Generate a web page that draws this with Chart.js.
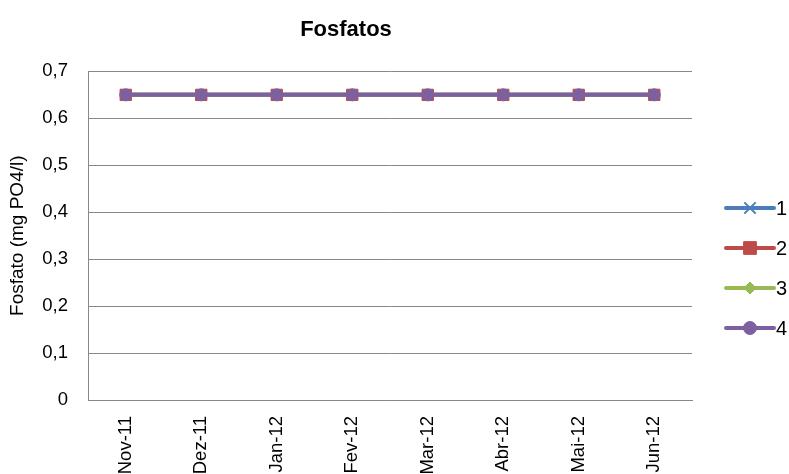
<!DOCTYPE html>
<html>
<head>
<meta charset="utf-8">
<title>Fosfatos</title>
<script src="https://cdn.jsdelivr.net/npm/chart.js@4.4.1/dist/chart.umd.min.js"></script>
<style>
  html, body { margin: 0; padding: 0; background: #ffffff; overflow: hidden; }
  #wrap { width: 789px; height: 474px; overflow: hidden; }
</style>
</head>
<body>
<div id="wrap"><canvas id="chart" width="789" height="474"></canvas></div>
<script>
// Sampling months
const months = ['Nov-11', 'Dez-11', 'Jan-12', 'Fev-12', 'Mar-12', 'Abr-12', 'Mai-12', 'Jun-12'];

// Phosphate (mg PO4/l) per sampling point
const point1 = [0.65, 0.65, 0.65, 0.65, 0.65, 0.65, 0.65, 0.65];
const point2 = [0.65, 0.65, 0.65, 0.65, 0.65, 0.65, 0.65, 0.65];
const point3 = [0.65, 0.65, 0.65, 0.65, 0.65, 0.65, 0.65, 0.65];
const point4 = [0.65, 0.65, 0.65, 0.65, 0.65, 0.65, 0.65, 0.65];

const seriesNames = ['1', '2', '3', '4'];
const yTicks = [0, 0.1, 0.2, 0.3, 0.4, 0.5, 0.6, 0.7];

const FONT = "'Liberation Sans', Arial, sans-serif";
const GRID = '#888888';

const styles = [
  { color: '#4A7EBB', point: 'crossRot', radius: 5, legendRadius: 8 },
  { color: '#BE4B48', point: 'rect', radius: 8, legendRadius: 9 },
  { color: '#98B954', point: 'rectRot', radius: 6, legendRadius: 6 },
  { color: '#7D60A0', point: 'circle', radius: 6, legendRadius: 6.5 }
];

const seriesData = [point1, point2, point3, point4];

const datasets = seriesData.map((d, i) => ({
  label: seriesNames[i],
  data: d,
  borderColor: styles[i].color,
  backgroundColor: styles[i].color,
  borderWidth: 4,
  pointStyle: styles[i].point,
  pointRadius: styles[i].radius,
  pointBorderWidth: i === 0 ? 2 : 1,
  pointBorderColor: styles[i].color,
  pointBackgroundColor: styles[i].color,
  tension: 0,
  // later series sit on top
  order: seriesNames.length - i
}));

// Legend on the right: short line with the series marker, then the name
const sideLegend = {
  id: 'sideLegend',
  afterDraw(chart) {
    const ctx = chart.ctx;
    const x0 = 726, x1 = 774, startY = 208, gap = 40;
    ctx.save();
    chart.data.datasets.forEach((ds, i) => {
      const y = startY + i * gap;
      ctx.strokeStyle = ds.borderColor;
      ctx.lineWidth = 4;
      ctx.lineCap = 'round';
      ctx.beginPath();
      ctx.moveTo(x0, y);
      ctx.lineTo(x1, y);
      ctx.stroke();
      ctx.fillStyle = ds.pointBackgroundColor;
      ctx.strokeStyle = ds.pointBorderColor;
      ctx.lineWidth = ds.pointBorderWidth;
      ctx.lineCap = 'butt';
      Chart.helpers.drawPoint(ctx, { pointStyle: ds.pointStyle, radius: styles[i].legendRadius, rotation: 0, borderWidth: ds.pointBorderWidth }, (x0 + x1) / 2, y);
      ctx.fillStyle = '#000000';
      ctx.font = '20px ' + FONT;
      ctx.textAlign = 'left';
      ctx.textBaseline = 'middle';
      ctx.fillText(ds.label, x1 + 2, y + 1);
    });
    ctx.restore();
  }
};

new Chart(document.getElementById('chart'), {
  type: 'line',
  data: { labels: months, datasets: datasets },
  plugins: [sideLegend],
  options: {
    responsive: false,
    animation: false,
    devicePixelRatio: 1,
    layout: { padding: { left: 0, right: 97, top: 0, bottom: 0 } },
    plugins: {
      legend: { display: false },
      tooltip: { enabled: false },
      title: {
        display: true,
        text: 'Fosfatos',
        color: '#000000',
        font: { family: FONT, size: 22, weight: 'bold', lineHeight: 1.2 },
        padding: { top: 17, bottom: 28 }
      }
    },
    scales: {
      x: {
        type: 'category',
        offset: true,
        grid: { display: false, drawTicks: false },
        border: { display: true, color: GRID, width: 1 },
        ticks: {
          color: '#000000',
          font: { family: FONT, size: 18.5 },
          minRotation: 90,
          maxRotation: 90,
          autoSkip: false,
          padding: 16
        },
        afterFit(scale) { scale.height = 74; }
      },
      y: {
        min: 0,
        max: 0.7,
        afterBuildTicks(scale) { scale.ticks = yTicks.map(v => ({ value: v })); },
        grid: { color: GRID, lineWidth: 1, drawTicks: false },
        border: { display: true, color: GRID, width: 1 },
        ticks: {
          color: '#000000',
          font: { family: FONT, size: 18.5 },
          padding: 20,
          callback: v => (v === 0 ? '0' : Number(v).toFixed(1).replace('.', ','))
        },
        title: {
          display: true,
          text: 'Fosfato (mg PO4/l)',
          color: '#000000',
          font: { family: FONT, size: 19, lineHeight: 1.2 },
          padding: { top: 6, bottom: 0 }
        },
        afterFit(scale) { scale.width = 88; }
      }
    }
  }
});
</script>
</body>
</html>
